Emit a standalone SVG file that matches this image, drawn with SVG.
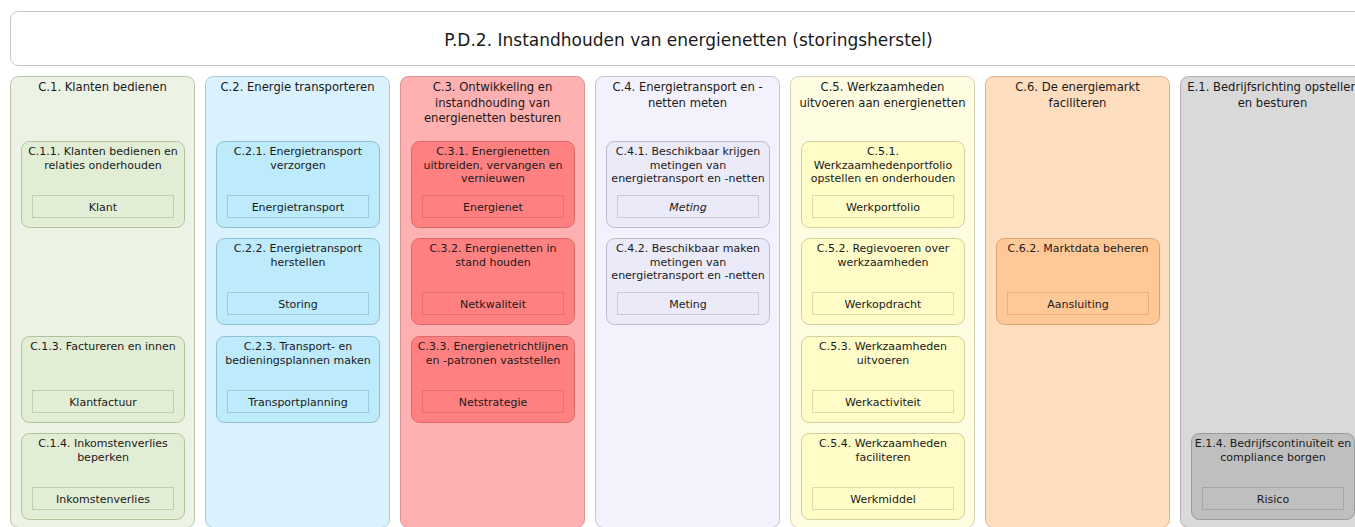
<svg xmlns="http://www.w3.org/2000/svg" width="1355" height="527" viewBox="0 0 1355 527">
<style>
text{font-family:"DejaVu Sans",sans-serif;fill:#1a1a1a;text-anchor:middle}
.tt{font-size:17px}
.h{font-size:11.6px}
.c{font-size:11px}
.l{font-size:11px}
.it{font-style:italic}
.lab{stroke:#8e8e8e;stroke-opacity:0.7;stroke-width:1}
.g1{fill:#EDF3E4;stroke:#B9C6A6}.g1c{fill:#E2EDD5;stroke:#B2C39C}
.g2{fill:#D9F2FD;stroke:#A6CADA}.g2c{fill:#BDEBFC;stroke:#8DBFD2}
.g3{fill:#FFB0B0;stroke:#D99393}.g3c{fill:#FF8080;stroke:#D96A6A}
.g4{fill:#F2F1FC;stroke:#C4C3CF}.g4c{fill:#EBEAF8;stroke:#BDBCC9}
.g5{fill:#FFFDE1;stroke:#D6D4B2}.g5c{fill:#FFFCC8;stroke:#D3D09F}
.g6{fill:#FFDEC0;stroke:#D4B293}.g6c{fill:#FFC896;stroke:#D6A578}
.g7{fill:#D9D9D9;stroke:#B0B0B0}.g7c{fill:#BFBFBF;stroke:#9A9A9A}
</style>
<g id="title">
<rect x="10.5" y="11.5" width="1355" height="54" rx="8" fill="#fff" stroke="#C4C4C4"/>
<text class="tt" x="688.5" y="46">P.D.2. Instandhouden van energienetten (storingsherstel)</text>
</g>
<g id="connectors"/>
<!-- Column 1 -->
<g id="C1">
<rect class="g1" x="10.5" y="76.5" width="184" height="451" rx="8"/>
<text class="h" x="102.5" y="91">C.1. Klanten bedienen</text>
</g>
<g id="C1.1">
<rect class="g1c" x="21.5" y="141.5" width="163" height="86" rx="8"/>
<text class="c" x="103" y="155">C.1.1. Klanten bedienen en</text>
<text class="c" x="103" y="168.5">relaties onderhouden</text>
<rect class="g1c lab" x="32.5" y="195.5" width="141" height="22"/>
<text class="l" x="103" y="210.5">Klant</text>
</g>
<g id="C1.3">
<rect class="g1c" x="21.5" y="336.5" width="163" height="86" rx="8"/>
<text class="c" x="103" y="350">C.1.3. Factureren en innen</text>
<rect class="g1c lab" x="32.5" y="390.5" width="141" height="22"/>
<text class="l" x="103" y="405.5">Klantfactuur</text>
</g>
<g id="C1.4">
<rect class="g1c" x="21.5" y="433.5" width="163" height="86" rx="8"/>
<text class="c" x="103" y="447">C.1.4. Inkomstenverlies</text>
<text class="c" x="103" y="460.5">beperken</text>
<rect class="g1c lab" x="32.5" y="487.5" width="141" height="22"/>
<text class="l" x="103" y="502.5">Inkomstenverlies</text>
</g>
<!-- Column 2 -->
<g id="C2">
<rect class="g2" x="205.5" y="76.5" width="184" height="451" rx="8"/>
<text class="h" x="297.5" y="91">C.2. Energie transporteren</text>
</g>
<g id="C2.1">
<rect class="g2c" x="216.5" y="141.5" width="163" height="86" rx="8"/>
<text class="c" x="298" y="155">C.2.1. Energietransport</text>
<text class="c" x="298" y="168.5">verzorgen</text>
<rect class="g2c lab" x="227.5" y="195.5" width="141" height="22"/>
<text class="l" x="298" y="210.5">Energietransport</text>
</g>
<g id="C2.2">
<rect class="g2c" x="216.5" y="238.5" width="163" height="86" rx="8"/>
<text class="c" x="298" y="252">C.2.2. Energietransport</text>
<text class="c" x="298" y="265.5">herstellen</text>
<rect class="g2c lab" x="227.5" y="292.5" width="141" height="22"/>
<text class="l" x="298" y="307.5">Storing</text>
</g>
<g id="C2.3">
<rect class="g2c" x="216.5" y="336.5" width="163" height="86" rx="8"/>
<text class="c" x="298" y="350">C.2.3. Transport- en</text>
<text class="c" x="298" y="363.5">bedieningsplannen maken</text>
<rect class="g2c lab" x="227.5" y="390.5" width="141" height="22"/>
<text class="l" x="298" y="405.5">Transportplanning</text>
</g>
<!-- Column 3 -->
<g id="C3">
<rect class="g3" x="400.5" y="76.5" width="184" height="451" rx="8"/>
<text class="h" x="492.5" y="91">C.3. Ontwikkeling en</text>
<text class="h" x="492.5" y="106.5">instandhouding van</text>
<text class="h" x="492.5" y="122">energienetten besturen</text>
</g>
<g id="C3.1">
<rect class="g3c" x="411.5" y="141.5" width="163" height="86" rx="8"/>
<text class="c" x="493" y="155">C.3.1. Energienetten</text>
<text class="c" x="493" y="168.5">uitbreiden, vervangen en</text>
<text class="c" x="493" y="182">vernieuwen</text>
<rect class="g3c lab" x="422.5" y="195.5" width="141" height="22"/>
<text class="l" x="493" y="210.5">Energienet</text>
</g>
<g id="C3.2">
<rect class="g3c" x="411.5" y="238.5" width="163" height="86" rx="8"/>
<text class="c" x="493" y="252">C.3.2. Energienetten in</text>
<text class="c" x="493" y="265.5">stand houden</text>
<rect class="g3c lab" x="422.5" y="292.5" width="141" height="22"/>
<text class="l" x="493" y="307.5">Netkwaliteit</text>
</g>
<g id="C3.3">
<rect class="g3c" x="411.5" y="336.5" width="163" height="86" rx="8"/>
<text class="c" x="493" y="350">C.3.3. Energienetrichtlijnen</text>
<text class="c" x="493" y="363.5">en -patronen vaststellen</text>
<rect class="g3c lab" x="422.5" y="390.5" width="141" height="22"/>
<text class="l" x="493" y="405.5">Netstrategie</text>
</g>
<!-- Column 4 -->
<g id="C4">
<rect class="g4" x="595.5" y="76.5" width="184" height="451" rx="8"/>
<text class="h" x="687.5" y="91">C.4. Energietransport en -</text>
<text class="h" x="687.5" y="106.5">netten meten</text>
</g>
<g id="C4.1">
<rect class="g4c" x="606.5" y="141.5" width="163" height="86" rx="8"/>
<text class="c" x="688" y="155">C.4.1. Beschikbaar krijgen</text>
<text class="c" x="688" y="168.5">metingen van</text>
<text class="c" x="688" y="182">energietransport en -netten</text>
<rect class="g4c lab" x="617.5" y="195.5" width="141" height="22"/>
<text class="l it" x="688" y="210.5">Meting</text>
</g>
<g id="C4.2">
<rect class="g4c" x="606.5" y="238.5" width="163" height="86" rx="8"/>
<text class="c" x="688" y="252">C.4.2. Beschikbaar maken</text>
<text class="c" x="688" y="265.5">metingen van</text>
<text class="c" x="688" y="279">energietransport en -netten</text>
<rect class="g4c lab" x="617.5" y="292.5" width="141" height="22"/>
<text class="l" x="688" y="307.5">Meting</text>
</g>
<!-- Column 5 -->
<g id="C5">
<rect class="g5" x="790.5" y="76.5" width="184" height="451" rx="8"/>
<text class="h" x="882.5" y="91">C.5. Werkzaamheden</text>
<text class="h" x="882.5" y="106.5">uitvoeren aan energienetten</text>
</g>
<g id="C5.1">
<rect class="g5c" x="801.5" y="141.5" width="163" height="86" rx="8"/>
<text class="c" x="883" y="155">C.5.1.</text>
<text class="c" x="883" y="168.5">Werkzaamhedenportfolio</text>
<text class="c" x="883" y="182">opstellen en onderhouden</text>
<rect class="g5c lab" x="812.5" y="195.5" width="141" height="22"/>
<text class="l" x="883" y="210.5">Werkportfolio</text>
</g>
<g id="C5.2">
<rect class="g5c" x="801.5" y="238.5" width="163" height="86" rx="8"/>
<text class="c" x="883" y="252">C.5.2. Regievoeren over</text>
<text class="c" x="883" y="265.5">werkzaamheden</text>
<rect class="g5c lab" x="812.5" y="292.5" width="141" height="22"/>
<text class="l" x="883" y="307.5">Werkopdracht</text>
</g>
<g id="C5.3">
<rect class="g5c" x="801.5" y="336.5" width="163" height="86" rx="8"/>
<text class="c" x="883" y="350">C.5.3. Werkzaamheden</text>
<text class="c" x="883" y="363.5">uitvoeren</text>
<rect class="g5c lab" x="812.5" y="390.5" width="141" height="22"/>
<text class="l" x="883" y="405.5">Werkactiviteit</text>
</g>
<g id="C5.4">
<rect class="g5c" x="801.5" y="433.5" width="163" height="86" rx="8"/>
<text class="c" x="883" y="447">C.5.4. Werkzaamheden</text>
<text class="c" x="883" y="460.5">faciliteren</text>
<rect class="g5c lab" x="812.5" y="487.5" width="141" height="22"/>
<text class="l" x="883" y="502.5">Werkmiddel</text>
</g>
<!-- Column 6 -->
<g id="C6">
<rect class="g6" x="985.5" y="76.5" width="184" height="451" rx="8"/>
<text class="h" x="1077.5" y="91">C.6. De energiemarkt</text>
<text class="h" x="1077.5" y="106.5">faciliteren</text>
</g>
<g id="C6.2">
<rect class="g6c" x="996.5" y="238.5" width="163" height="86" rx="8"/>
<text class="c" x="1078" y="252">C.6.2. Marktdata beheren</text>
<rect class="g6c lab" x="1007.5" y="292.5" width="141" height="22"/>
<text class="l" x="1078" y="307.5">Aansluiting</text>
</g>
<!-- Column 7 -->
<g id="E1">
<rect class="g7" x="1180.5" y="76.5" width="184" height="451" rx="8"/>
<text class="h" x="1272.5" y="91">E.1. Bedrijfsrichting opstellen</text>
<text class="h" x="1272.5" y="106.5">en besturen</text>
</g>
<g id="E1.4">
<rect class="g7c" x="1191.5" y="433.5" width="163" height="86" rx="8"/>
<text class="c" x="1273" y="447">E.1.4. Bedrijfscontinuïteit en</text>
<text class="c" x="1273" y="460.5">compliance borgen</text>
<rect class="g7c lab" x="1202.5" y="487.5" width="141" height="22"/>
<text class="l" x="1273" y="502.5">Risico</text>
</g>
</svg>
